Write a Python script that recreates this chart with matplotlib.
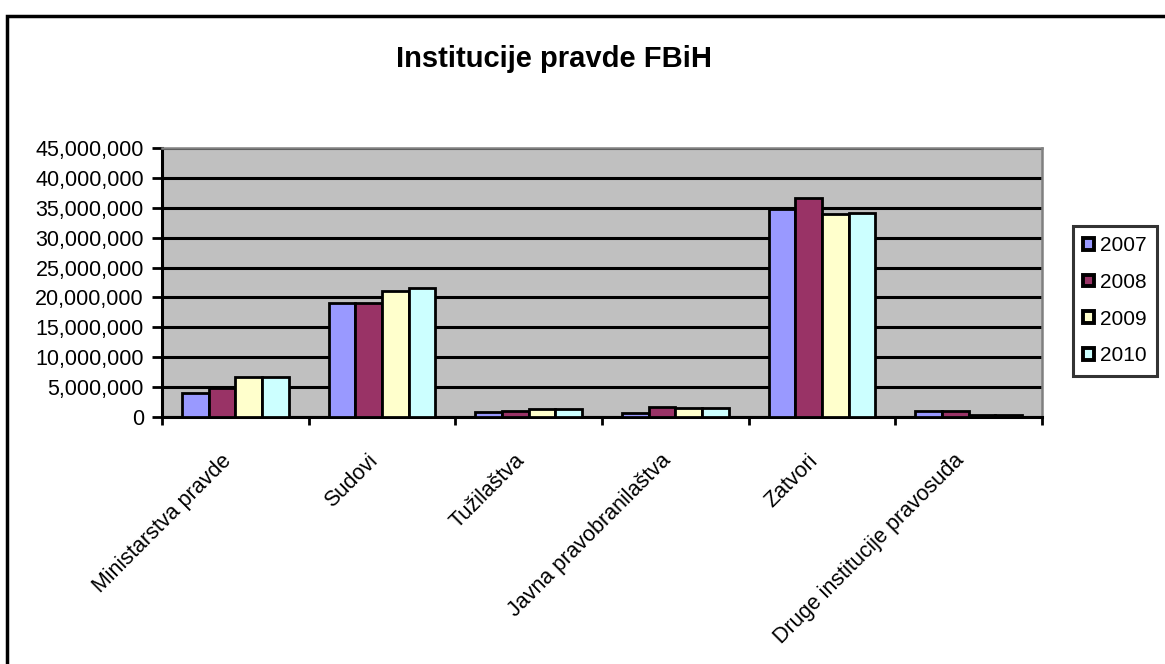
import numpy as np
import matplotlib
matplotlib.use("Agg")
import matplotlib.pyplot as plt
from matplotlib.patches import Patch, Rectangle
from matplotlib.ticker import FuncFormatter, FixedLocator

plt.rcParams["font.family"] = ["Liberation Sans", "DejaVu Sans"]

categories = ["Ministarstva pravde", "Sudovi", "Tužilaštva",
              "Javna pravobranilaštva", "Zatvori",
              "Druge institucije pravosuđa"]
years = ["2007", "2008", "2009", "2010"]
v2007 = [3_900_000, 19_000_000, 850_000, 550_000, 34_900_000, 950_000]
v2008 = [4_750_000, 19_000_000, 900_000, 1_600_000, 36_700_000, 950_000]
v2009 = [6_600_000, 21_000_000, 1_350_000, 1_400_000, 33_900_000, 350_000]
v2010 = [6_600_000, 21_500_000, 1_350_000, 1_400_000, 34_100_000, 350_000]
series = [v2007, v2008, v2009, v2010]
colors = ["#9999FF", "#993366", "#FFFFCC", "#CCFFFF"]
yticks = np.arange(0, 45_000_001, 5_000_000)

fig = plt.figure(figsize=(11.65, 6.64), dpi=100)
ax = fig.add_axes([0.139, 0.3724, 0.7554, 0.4043])
ax.set_facecolor("#C0C0C0")

x = np.arange(len(categories))
bw = 1 / 5.5
for i, (vals, c) in enumerate(zip(series, colors)):
    ax.bar(x + (i - 1.5) * bw, vals, width=bw, color=c,
           edgecolor="black", linewidth=2.0, zorder=3, label=years[i])

ax.set_xlim(-0.5, len(categories) - 0.5)
ax.set_ylim(0, 45_000_000)

# y axis
ax.set_yticks(yticks)
ax.yaxis.set_major_formatter(FuncFormatter(lambda v, p: f"{int(v):,}"))
ax.tick_params(axis="y", labelsize=15.5, length=7, width=2, pad=6, direction="out")
ax.grid(axis="y", color="black", linewidth=2.2, zorder=1)
ax.set_axisbelow(True)

# x axis: ticks at category borders, labels at centres
ax.xaxis.set_major_locator(FixedLocator(np.arange(-0.5, len(categories), 1)))
ax.xaxis.set_major_formatter(FuncFormatter(lambda v, p: ""))
ax.set_xticks(x, minor=True)
ax.set_xticklabels(categories, minor=True, rotation=45, ha="right", va="top",
                   fontsize=15.5)
ax.tick_params(axis="x", which="major", length=6, width=2, direction="out")
ax.tick_params(axis="x", which="minor", length=0, pad=24)

for side in ["left", "bottom"]:
    ax.spines[side].set_linewidth(2.2)
    ax.spines[side].set_color("black")
for side in ["top", "right"]:
    ax.spines[side].set_linewidth(1.8)
    ax.spines[side].set_color("#808080")

fig.text(0.4755, 0.911, "Institucije pravde FBiH", ha="center", va="center",
         fontsize=21, fontweight="bold")

handles = [Patch(facecolor=c, edgecolor="black", linewidth=2.8, label=y)
           for c, y in zip(colors, years)]
leg = fig.legend(handles=handles, loc="upper left",
                 bbox_to_anchor=(0.921, 0.66), borderaxespad=0,
                 fontsize=15, frameon=True, fancybox=False,
                 handlelength=0.5, handleheight=0.5, handletextpad=0.3,
                 labelspacing=0.85, borderpad=0.5)
leg.get_frame().set_edgecolor("black")
leg.get_frame().set_linewidth(2.2)

# outer chart border
fig.add_artist(Rectangle((7 / 1165, -0.05), 1.1, 1 - 16 / 664 + 0.05,
                         transform=fig.transFigure, fill=False,
                         edgecolor="black", linewidth=2.5, clip_on=False))

fig.savefig("out.png", dpi=100)
